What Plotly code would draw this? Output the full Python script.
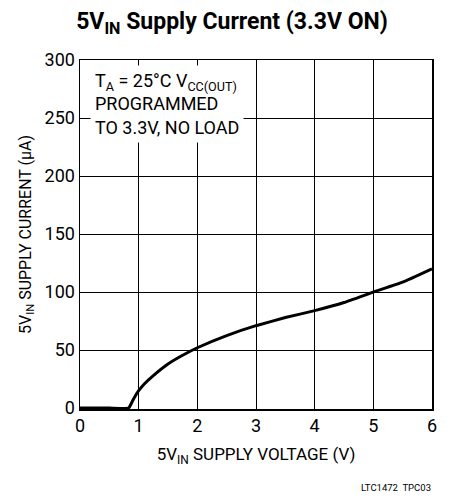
import plotly.graph_objects as go

voltage = [0, 0.5, 0.83, 0.87, 0.92, 1.0, 1.1, 1.25, 1.5, 1.75, 2.0, 2.5, 3.0, 3.5, 4.0, 4.5, 5.0, 5.5, 6.0]
current = [0, 0, 0, 3.5, 8.5, 15, 21, 28, 38, 45.5, 52, 62.5, 71, 78, 84, 91, 100, 108.5, 120]

x_ticks = [0, 1, 2, 3, 4, 5, 6]
y_ticks = [0, 50, 100, 150, 200, 250, 300]

FONT = "Liberation Sans Narrow, Arial Narrow, Roboto, sans-serif"

# plot area in pixels
L, R, T, B = 80, 432, 60, 409
W, H = 451, 496


def px_x(p):
    return (p - L) / (R - L)


def px_y(p):
    return (B - p) / (B - T)


fig = go.Figure()
fig.add_trace(go.Scatter(x=voltage, y=current, mode="lines",
                         line=dict(color="black", width=3, shape="spline", smoothing=0.35),
                         hoverinfo="skip", showlegend=False))

fig.update_layout(
    width=W, height=H,
    margin=dict(l=L, r=W - R, t=T, b=H - B),
    paper_bgcolor="white", plot_bgcolor="white",
    font=dict(family=FONT, size=16, color="black"),
    showlegend=False,
    xaxis=dict(range=[0, 6], tickvals=x_ticks, ticktext=[str(v) for v in x_ticks],
               showgrid=True, gridcolor="black", gridwidth=1,
               showline=True, linecolor="black", linewidth=1.5, mirror=True,
               zeroline=False, ticks="", ticklen=0, tickfont=dict(size=18),
               title=dict(text="5V<sub>IN</sub> SUPPLY VOLTAGE (V)", font=dict(size=17), standoff=13)),
    yaxis=dict(range=[-0.8, 300], tickvals=y_ticks, ticktext=[str(v) for v in y_ticks],
               showgrid=True, gridcolor="black", gridwidth=1,
               showline=True, linecolor="black", linewidth=1.5, mirror=True,
               zeroline=False, ticks="", ticklen=0, tickfont=dict(size=18),
               title=dict(text="5V<sub>IN</sub> SUPPLY CURRENT (µA)", font=dict(size=16), standoff=9)),
    title=dict(text="<b>5V<sub>IN</sub> Supply Current (3.3V ON)</b>",
               x=232 / W, xanchor="center", y=1 - 21 / H, yanchor="middle",
               font=dict(size=23, family=FONT)),
    annotations=[
        dict(text="T<sub>A</sub> = 25°C V<sub>CC(OUT)</sub><br>PROGRAMMED<br>TO 3.3V, NO LOAD",
             xref="paper", yref="paper", x=px_x(90), y=px_y(65),
             xanchor="left", yanchor="top", align="left", showarrow=False,
             bgcolor="white", borderpad=4, font=dict(size=18)),
        dict(text="LTC1472  TPC03", xref="paper", yref="paper",
             x=px_x(433), y=px_y(487), xanchor="right", yanchor="middle",
             showarrow=False, font=dict(size=9.5)),
    ],
)
fig.write_html("out.html", config={"displayModeBar": False, "staticPlot": True},
               post_script="document.body.style.margin='0';document.body.style.padding='0';")
